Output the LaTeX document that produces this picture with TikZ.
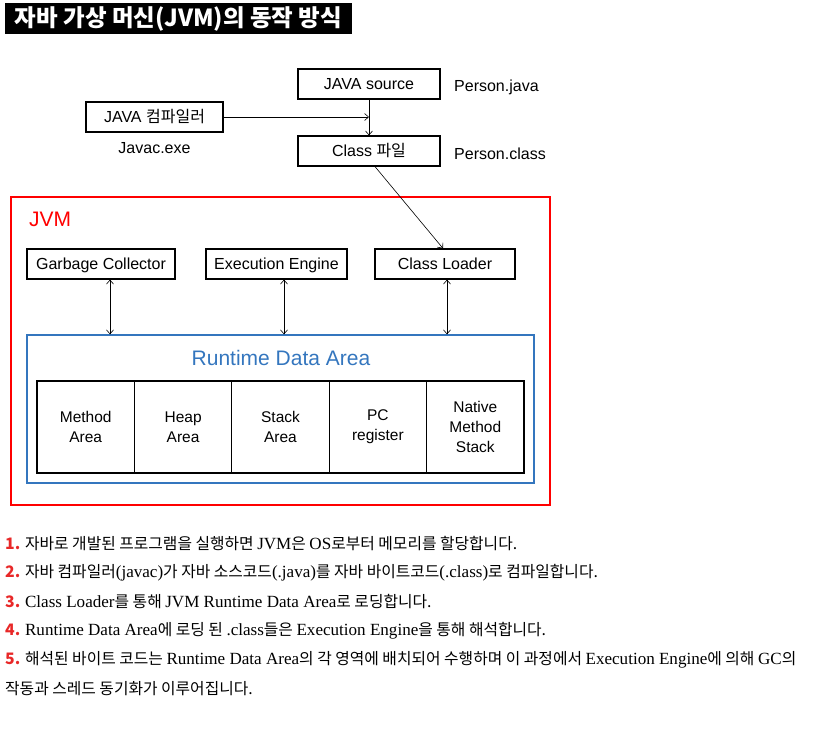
\documentclass[tikz,border=0pt]{standalone}
\usepackage{fontspec}
\setmainfont{Liberation Sans}
\newfontfamily\kr{Noto Sans CJK KR}
\newfontfamily\enserif[Scale=1.08]{Liberation Serif}
\newcommand{\en}[1]{{\enserif #1}}
\usetikzlibrary{
    arrows.meta,
    positioning,
    calc
}
\definecolor{jvmred}{RGB}{255,0,0}
\definecolor{rdablue}{RGB}{52,118,190}
\definecolor{numred}{RGB}{232,40,40}

\begin{document}
\begin{tikzpicture}[
    x=1pt, y=-1pt,
    >={Straight Barb[length=4pt,width=7pt]},
    box/.style={
        draw,
        line width=1.2pt,
        minimum height=30pt,
        inner sep=0pt,
        text height=12pt,
        text depth=1.5pt,
        font=\fontsize{16}{18}\selectfont
    },
    cell/.style={box, minimum width=97.4pt, minimum height=92pt,
        text height=, text depth=,
        align=center, font=\fontsize{15.5}{20}\selectfont},
    label/.style={anchor=west, inner sep=0pt, font=\fontsize{16}{18}\selectfont},
    item/.style={anchor=west, inner sep=0pt, font=\kr\fontsize{15.8}{18}\selectfont},
    arrow/.style={->, line width=0.6pt},
    both/.style={<->, line width=0.6pt}
]
\useasboundingbox (0,0) rectangle (820,732);

\def\ya{264}
\def\yc{427}
\def\dw{97.4}

% ============================================================
% TITLE
% ============================================================

\node[fill=black, text=white, minimum width=347pt, minimum height=31pt,
    inner sep=0pt, font=\kr\bfseries\fontsize{23.5}{26}\selectfont]
    (title) at (178.5,18.5) {자바 가상 머신(JVM)의 동작 방식};

% ============================================================
% COMPILE
% ============================================================

\node[box, minimum width=142pt] (src) at (369,84) {JAVA source};
\node[box, minimum width=137pt] (javac) at (154.5,117) {JAVA {\kr 컴파일러}};
\node[box, minimum width=142pt] (cls) at (369,151) {Class {\kr 파일}};

\node[label] (srcname) at (454,87) {Person.java};
\node[label] (clsname) at (454,154) {Person.class};
\node[font=\fontsize{16}{18}\selectfont, below=6pt of javac] (exe) {Javac.exe};

\draw[arrow] (src.south) -- (cls.north);
\draw[arrow] (javac.east) -- (javac.east -| src.south);

% ============================================================
% JVM
% ============================================================

\node[draw=jvmred, line width=1.3pt, minimum width=539pt, minimum height=308pt]
    (jvm) at (280.5,351) {};
\node[anchor=west, inner sep=0pt, text=jvmred, font=\fontsize{21}{24}\selectfont]
    (jvmname) at (29,219) {JVM};

\node[box, minimum width=148pt] (gc) at (101,\ya) {Garbage Collector};
\node[box, minimum width=141pt] (engine) at (276.5,\ya) {Execution Engine};
\node[box, minimum width=140pt] (loader) at (445,\ya) {Class Loader};

\draw[arrow] ([xshift=6pt]cls.south) -- ([xshift=-2pt]loader.north);

\node[draw=rdablue, line width=1.3pt, minimum width=507pt, minimum height=148pt]
    (rda) at (280.5,409) {};
\node[text=rdablue, font=\fontsize{21}{24}\selectfont] (rdaname) at (281,358)
    {Runtime Data Area};

\draw[both] ([xshift=9pt]gc.south) -- ([xshift=9pt]gc.south |- rda.north);
\draw[both] ([xshift=7.5pt]engine.south) -- ([xshift=7.5pt]engine.south |- rda.north);
\draw[both] ([xshift=2pt]loader.south) -- ([xshift=2pt]loader.south |- rda.north);

\foreach \name/\txt [count=\i] in {method/{Method\\Area}, heap/{Heap\\Area},
    stack/{Stack\\Area}, pc/{PC\\register}, native/{Native\\Method\\Stack}} {
    \node[cell] (\name) at ({37+\dw*(\i-0.5)},\yc) {\txt};
}

% ============================================================
% STEPS
% ============================================================

\newcommand{\itemline}[2]{%
    \node[item] (n#1) at (5,{544+(#1-1)*29}) {\textcolor{numred}{\bfseries #1.} #2};
}

\itemline{1}{자바로 개발된 프로그램을 실행하면 \en{JVM}은 \en{OS}로부터 메모리를 할당합니다.}
\itemline{2}{자바 컴파일러\en{(javac)}가 자바 소스코드\en{(.java)}를 자바 바이트코드\en{(.class)}로 컴파일합니다.}
\itemline{3}{\en{Class Loader}를 통해 \en{JVM Runtime Data Area}로 로딩합니다.}
\itemline{4}{\en{Runtime Data Area}에 로딩 된 \en{.class}들은 \en{Execution Engine}을 통해 해석합니다.}
\itemline{5}{해석된 바이트 코드는 \en{Runtime Data Area}의 각 영역에 배치되어 수행하며 이 과정에서 \en{Execution Engine}에 의해 \en{GC}의}
\node[item] (n6) at (5,689) {작동과 스레드 동기화가 이루어집니다.};

\end{tikzpicture}
\end{document}
